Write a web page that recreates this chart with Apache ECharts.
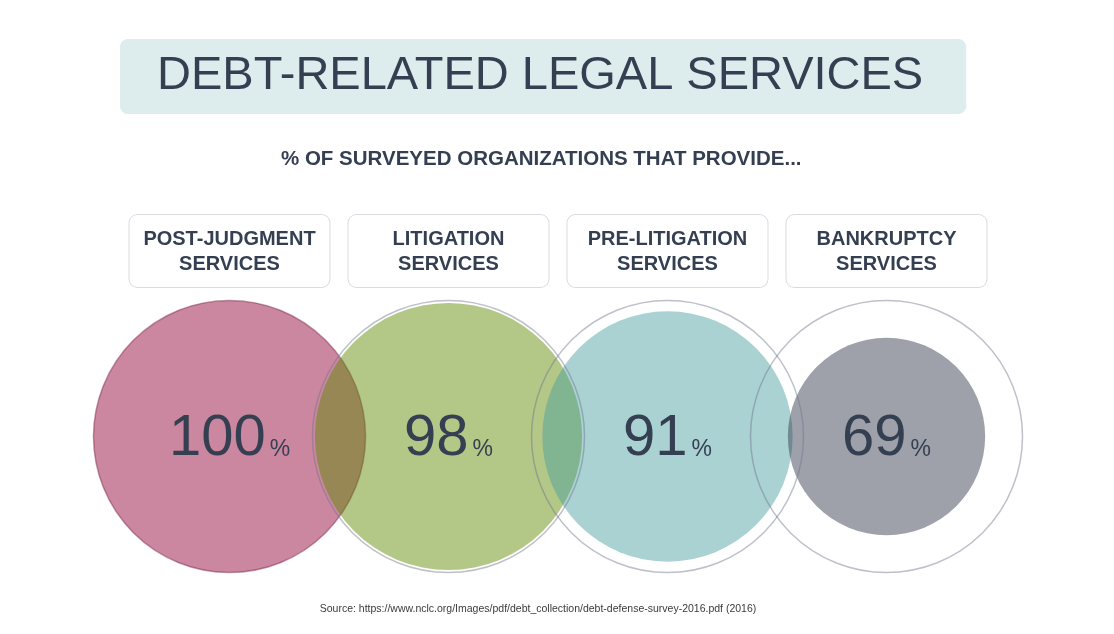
<!DOCTYPE html>
<html><head><meta charset="utf-8">
<script src="https://cdn.jsdelivr.net/npm/echarts@6/dist/echarts.min.js"></script>
<style>html,body{margin:0;padding:0;background:#fff}#c{width:1114px;height:634px}</style>
</head><body><div id="c"></div>
<script>
// ---- data ----
const categories = ['POST-JUDGMENT\nSERVICES', 'LITIGATION\nSERVICES', 'PRE-LITIGATION\nSERVICES', 'BANKRUPTCY\nSERVICES'];
const percentages = [100, 98, 91, 69];
const fullScale = 100;
const titleText = 'DEBT-RELATED LEGAL SERVICES';
const subtitleText = '% OF SURVEYED ORGANIZATIONS THAT PROVIDE...';
const sourceText = 'Source: https://www.nclc.org/Images/pdf/debt_collection/debt-defense-survey-2016.pdf (2016)';

// ---- styles ----
const fills = ['rgba(145,0,51,0.47)', 'rgba(94,136,0,0.47)', 'rgba(70,157,157,0.46)', 'rgba(49,55,74,0.47)'];
const ink = '#353f52';
const font = "'Liberation Sans', Arial, Helvetica, sans-serif";

const chart = echarts.init(document.getElementById('c'), null, {renderer: 'canvas'});
chart.setOption({
  animation: false,
  backgroundColor: '#ffffff',
  title: [
    {
      text: titleText, left: 120, top: 39,
      padding: [10, 43, 10, 37],
      backgroundColor: '#ddecec', borderRadius: 8,
      textStyle: {fontFamily: font, fontSize: 47, fontWeight: 'normal', color: ink, lineHeight: 55}
    },
    {
      text: subtitleText, left: 281, top: 149, padding: 0,
      textStyle: {fontFamily: font, fontSize: 20.5, fontWeight: 'bold', color: ink, lineHeight: 20}
    },
    {
      text: sourceText, left: 538, top: 603, padding: 0, textAlign: 'center',
      textStyle: {fontFamily: font, fontSize: 10.5, fontWeight: 'normal', color: '#3a3a3a', lineHeight: 13}
    }
  ],
  singleAxis: {
    type: 'category', data: categories, position: 'top',
    left: 120, right: 118, top: 300, height: 273,
    axisLine: {show: false}, axisTick: {show: false}, splitLine: {show: false},
    axisPointer: {show: false},
    axisLabel: {
      interval: 0, margin: 13,
      fontFamily: font, fontSize: 20, fontWeight: 'bold', color: ink, lineHeight: 25,
      width: 200, align: 'center', padding: [12, 0, 10, 0],
      backgroundColor: '#ffffff', borderColor: '#d9dbe1', borderWidth: 1, borderRadius: 8
    }
  },
  visualMap: {
    show: false, type: 'continuous', dimension: 1, seriesIndex: [0, 1],
    min: 0, max: 100, inRange: {symbolSize: [31, 272]}
  },
  series: [
    {
      type: 'scatter', coordinateSystem: 'singleAxis', symbol: 'circle',
      silent: true,
      data: percentages.map((v, i) => ({
        value: [i, v],
        itemStyle: {
          color: fills[i], opacity: 1,
          borderColor: i === 0 ? 'rgba(120,30,70,0.45)' : 'rgba(0,0,0,0)',
          borderWidth: i === 0 ? 1.5 : 0
        }
      })),
      label: {
        show: true, position: 'inside', offset: [0, 2],
        formatter: p => '{num|' + p.value[1] + '}{pct|%}',
        rich: {
          num: {fontFamily: font, fontSize: 58, lineHeight: 58, color: ink, verticalAlign: 'bottom'},
          pct: {fontFamily: font, fontSize: 23, lineHeight: 23, color: ink, verticalAlign: 'bottom', padding: [0, 0, 6, 4]}
        }
      },
      emphasis: {disabled: true}
    },
    {
      type: 'scatter', coordinateSystem: 'singleAxis', symbol: 'circle',
      silent: true,
      data: categories.map((c, i) => [i, fullScale]).slice(1),
      itemStyle: {color: 'rgba(0,0,0,0)', opacity: 1, borderColor: 'rgba(110,115,140,0.45)', borderWidth: 1.5},
      emphasis: {disabled: true}
    }
  ]
});
</script>
</body></html>
